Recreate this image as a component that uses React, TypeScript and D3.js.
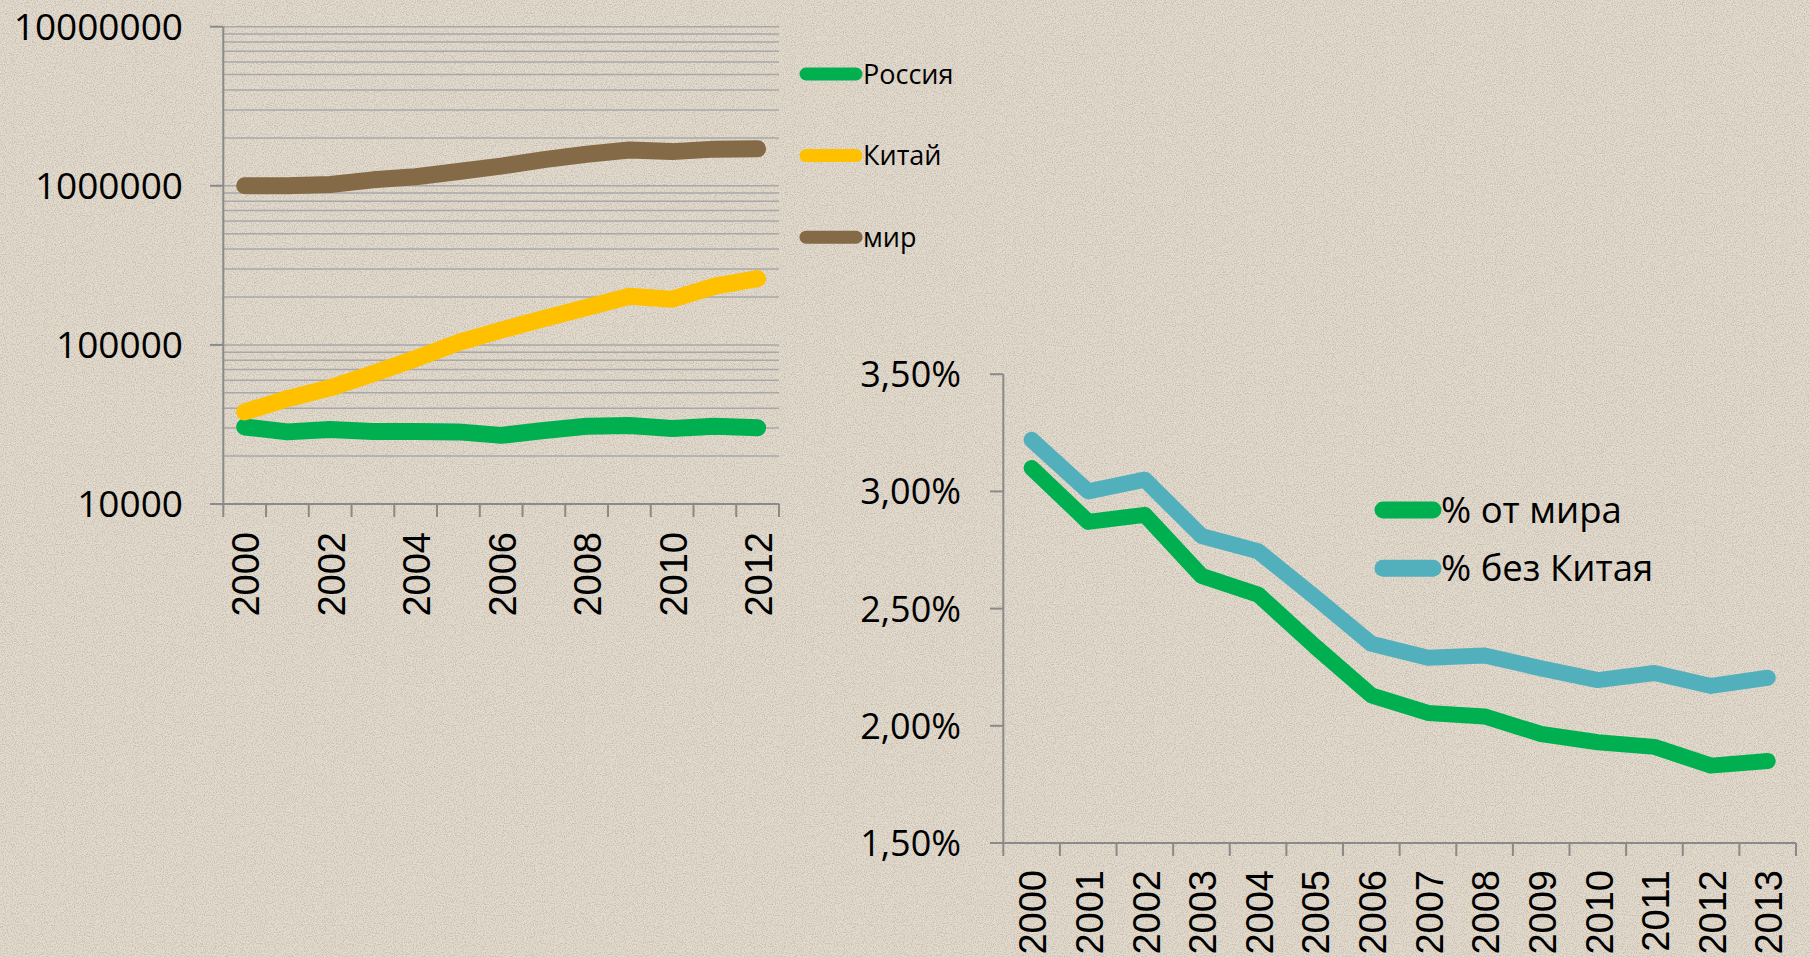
import React from "react";
import * as d3 from "d3";

// ---- Left chart data (log scale) ----
const yearsLeft = [2000, 2001, 2002, 2003, 2004, 2005, 2006, 2007, 2008, 2009, 2010, 2011, 2012];
const russia = [30500, 28400, 29400, 28600, 28600, 28400, 27000, 29000, 30800, 31100, 29800, 30800, 30100];
const china = [37900, 45900, 53700, 66000, 82000, 103500, 123700, 146500, 171800, 202000, 193700, 234000, 261000];
const world = [1000000, 1000000, 1020000, 1090000, 1140000, 1230000, 1330000, 1460000, 1580000, 1680000, 1640000, 1700000, 1710000];
const leftYTicks = [10000, 100000, 1000000, 10000000];
const leftXLabels = [2000, 2002, 2004, 2006, 2008, 2010, 2012];
const leftLegend = ["Россия", "Китай", "мир"];

// ---- Right chart data (percent) ----
const yearsRight = [2000, 2001, 2002, 2003, 2004, 2005, 2006, 2007, 2008, 2009, 2010, 2011, 2012, 2013];
const pctWorld = [3.10, 2.87, 2.90, 2.64, 2.56, 2.34, 2.13, 2.055, 2.04, 1.965, 1.93, 1.91, 1.83, 1.85];
const pctExChina = [3.22, 3.00, 3.05, 2.81, 2.745, 2.55, 2.35, 2.29, 2.30, 2.245, 2.195, 2.225, 2.17, 2.205];
const rightYTicks = [1.5, 2.0, 2.5, 3.0, 3.5];
const rightLegend = ["% от мира", "% без Китая"];

const GREEN = "#00B050";
const YELLOW = "#FFC000";
const BROWN = "#846A46";
const AQUA = "#52AFBC";
const AXIS = "#8a8a8a";
const GRID = "#a8a8a8";
const CAL = "'Open Sans', 'Noto Sans', sans-serif";
const ARI = "'Liberation Sans', Arial, sans-serif";

export default function App() {
  const W = 1810, H = 957;

  // Left scales
  const xL = d3.scaleBand<number>().domain(yearsLeft).range([223.3, 779]).padding(0);
  const yL = d3.scaleLog().domain([1e4, 1e7]).range([504, 26.7]);
  const cxL = (yr: number) => (xL(yr) as number) + xL.bandwidth() / 2;
  const lineL = d3.line<number>().x((_, i) => cxL(yearsLeft[i])).y((d) => yL(d));
  const minorGrid: number[] = [];
  for (let e = 4; e < 7; e++) for (let m = 2; m <= 9; m++) minorGrid.push(m * Math.pow(10, e));
  const majorGrid = [100000, 1000000, 10000000];
  const leftBounds = yearsLeft.map((y) => xL(y) as number).concat([779]);

  // Right scales
  const xR = d3.scaleBand<number>().domain(yearsRight).range([1003.3, 1796]).padding(0);
  const yR = d3.scaleLinear().domain([1.5, 3.5]).range([843, 374.2]);
  const cxR = (yr: number) => (xR(yr) as number) + xR.bandwidth() / 2;
  const lineR = d3.line<number>().x((_, i) => cxR(yearsRight[i])).y((d) => yR(d));
  const rightBounds = yearsRight.map((y) => xR(y) as number).concat([1796]);
  const fmtPct = (v: number) => v.toFixed(2).replace(".", ",") + "%";

  const leftSeries = [
    { name: leftLegend[0], data: russia, color: GREEN },
    { name: leftLegend[1], data: china, color: YELLOW },
    { name: leftLegend[2], data: world, color: BROWN },
  ];
  const rightSeries = [
    { name: rightLegend[0], data: pctWorld, color: GREEN },
    { name: rightLegend[1], data: pctExChina, color: AQUA },
  ];

  return (
    <svg
      width={W}
      height={H}
      style={{ position: "absolute", left: 0, top: 0, display: "block" }}
    >
      <defs>
        <filter id="noise" x="0" y="0" width="100%" height="100%">
          <feTurbulence type="fractalNoise" baseFrequency="0.9" numOctaves="2" seed="3" result="t" />
          <feColorMatrix
            type="matrix"
            values="0 0 0 0 0.42  0 0 0 0 0.37  0 0 0 0 0.30  0 0 0 -3 1.75"
          />
        </filter>
      </defs>
      <rect x={0} y={0} width={W} height={H} fill="#E3DBCE" />
      <rect x={0} y={0} width={W} height={H} filter="url(#noise)" opacity={0.5} />

      {/* ===== Left chart ===== */}
      <g>
        {minorGrid.concat(majorGrid).map((v) => (
          <line key={"g" + v} x1={223.3} x2={779} y1={yL(v)} y2={yL(v)} stroke={GRID} strokeWidth={1.5} />
        ))}
        <line x1={223.3} x2={223.3} y1={yL(1e7)} y2={yL(1e4)} stroke={AXIS} strokeWidth={2} />
        <line x1={223.3} x2={779} y1={yL(1e4)} y2={yL(1e4)} stroke={AXIS} strokeWidth={2} />
        {leftYTicks.map((v) => (
          <g key={"yt" + v}>
            <line x1={210} x2={223.3} y1={yL(v)} y2={yL(v)} stroke={AXIS} strokeWidth={2} />
            <text x={183} y={yL(v)} dy="0.36em" textAnchor="end" fontFamily={CAL} fontSize={37} fill="#000">
              {String(v)}
            </text>
          </g>
        ))}
        {leftBounds.map((x, i) => (
          <line key={"xt" + i} x1={x} x2={x} y1={yL(1e4)} y2={yL(1e4) + 13} stroke={AXIS} strokeWidth={2} />
        ))}
        {leftXLabels.map((yr) => (
          <text
            key={"xl" + yr}
            transform={`translate(${cxL(yr) + 1},532) rotate(-90)`}
            textAnchor="end"
            dy="0.36em"
            fontFamily={ARI}
            fontSize={38}
            fill="#000"
          >
            {String(yr)}
          </text>
        ))}
        {leftSeries.map((s) => (
          <path
            key={"ls" + s.name}
            d={lineL(s.data) as string}
            fill="none"
            stroke={s.color}
            strokeWidth={17}
            strokeLinejoin="round"
            strokeLinecap="round"
          />
        ))}
        {leftSeries.map((s, i) => (
          <g key={"lg" + s.name} transform={`translate(0,${74 + i * 81.6})`}>
            <line x1={806} x2={856} y1={0} y2={0} stroke={s.color} strokeWidth={13} strokeLinecap="round" />
            <text x={863} y={0} dy="0.36em" fontFamily={CAL} fontSize={27} fill="#000">
              {s.name}
            </text>
          </g>
        ))}
      </g>

      {/* ===== Right chart ===== */}
      <g>
        <line x1={1003.3} x2={1003.3} y1={yR(3.5)} y2={yR(1.5)} stroke={AXIS} strokeWidth={2} />
        <line x1={1003.3} x2={1796} y1={yR(1.5)} y2={yR(1.5)} stroke={AXIS} strokeWidth={2} />
        {rightYTicks.map((v) => (
          <g key={"ryt" + v}>
            <line x1={990} x2={1003.3} y1={yR(v)} y2={yR(v)} stroke={AXIS} strokeWidth={2} />
            <text x={961} y={yR(v)} dy="0.36em" textAnchor="end" fontFamily={CAL} fontSize={36} fill="#000">
              {fmtPct(v)}
            </text>
          </g>
        ))}
        {rightBounds.map((x, i) => (
          <line key={"rxt" + i} x1={x} x2={x} y1={yR(1.5)} y2={yR(1.5) + 13} stroke={AXIS} strokeWidth={2} />
        ))}
        {yearsRight.map((yr) => (
          <text
            key={"rxl" + yr}
            transform={`translate(${cxR(yr) + 1},870) rotate(-90)`}
            textAnchor="end"
            dy="0.36em"
            fontFamily={ARI}
            fontSize={38}
            fill="#000"
          >
            {String(yr)}
          </text>
        ))}
        {rightSeries.map((s) => (
          <path
            key={"rs" + s.name}
            d={lineR(s.data) as string}
            fill="none"
            stroke={s.color}
            strokeWidth={16}
            strokeLinejoin="round"
            strokeLinecap="round"
          />
        ))}
        {rightSeries.map((s, i) => (
          <g key={"rlg" + s.name} transform={`translate(0,${510 + i * 58.3})`}>
            <line x1={1383} x2={1433} y1={0} y2={0} stroke={s.color} strokeWidth={17} strokeLinecap="round" />
            <text x={1441} y={0} dy="0.36em" fontFamily={CAL} fontSize={36.5} fill="#000">
              {s.name}
            </text>
          </g>
        ))}
      </g>
    </svg>
  );
}
